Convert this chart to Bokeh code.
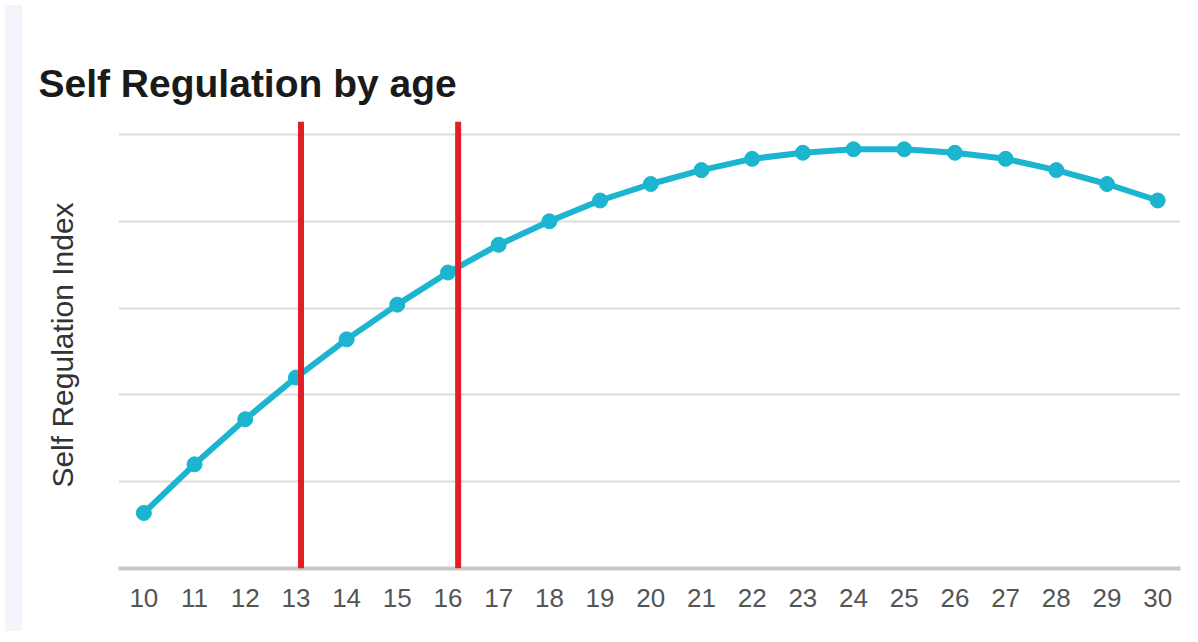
from bokeh.plotting import figure
from bokeh.models import Range1d, Span, FixedTicker, Div
from bokeh.layouts import row
from bokeh.embed import file_html
from bokeh.resources import INLINE

ages = list(range(10, 31))
index_values = [0.64, 1.20, 1.72, 2.20, 2.64, 3.04, 3.41, 3.73, 4.00, 4.24, 4.43,
                4.59, 4.72, 4.79, 4.83, 4.83, 4.79, 4.72, 4.59, 4.43, 4.24]
marker_ages = [13.1, 16.2]
grid_levels = [1, 2, 3, 4, 5]
y_title = "Self Regulation Index"

FONT = "Liberation Sans"

p = figure(width=1163, height=626, output_backend="svg", toolbar_location=None,
           x_range=Range1d(9.5, 30.45), y_range=Range1d(0, 5.15),
           min_border_left=91, min_border_right=10, min_border_top=121, min_border_bottom=58)
p.outline_line_color = None

p.title.text = "Self Regulation by age"
p.title.text_font = FONT
p.title.text_font_size = "39px"
p.title.text_font_style = "bold"
p.title.text_color = "#1a1a1a"
p.title.offset = -80
p.title.standoff = 33

p.xgrid.grid_line_color = None
p.ygrid.ticker = FixedTicker(ticks=grid_levels)
p.ygrid.grid_line_color = "#dcdcdc"
p.ygrid.grid_line_width = 2

p.xaxis.ticker = FixedTicker(ticks=ages)
p.xaxis.axis_line_color = "#c8c8c8"
p.xaxis.axis_line_width = 4
p.xaxis.major_tick_line_color = None
p.xaxis.minor_tick_line_color = None
p.xaxis.major_label_text_font = FONT
p.xaxis.major_label_text_font_size = "26px"
p.xaxis.major_label_text_color = "#555555"
p.xaxis.major_label_standoff = 14

p.yaxis.ticker = FixedTicker(ticks=[])
p.yaxis.axis_line_color = None
p.yaxis.major_tick_line_color = None
p.yaxis.minor_tick_line_color = None
p.yaxis.axis_label = y_title
p.yaxis.axis_label_text_font = FONT
p.yaxis.axis_label_text_font_size = "30px"
p.yaxis.axis_label_text_font_style = "normal"
p.yaxis.axis_label_text_color = "#333333"
p.yaxis.axis_label_standoff = 40

for a in marker_ages:
    p.add_layout(Span(location=a, dimension="height", line_color="#e41e26", line_width=6))

p.line(ages, index_values, line_color="#1bb5d0", line_width=6)
p.scatter(ages, index_values, size=15, fill_color="#1bb5d0", line_color="#1bb5d0")

strip = Div(width=17, height=626, styles={"background-color": "#f4f4fb"})
layout = row(strip, p)

open("out.html", "w").write(file_html(layout, INLINE))
